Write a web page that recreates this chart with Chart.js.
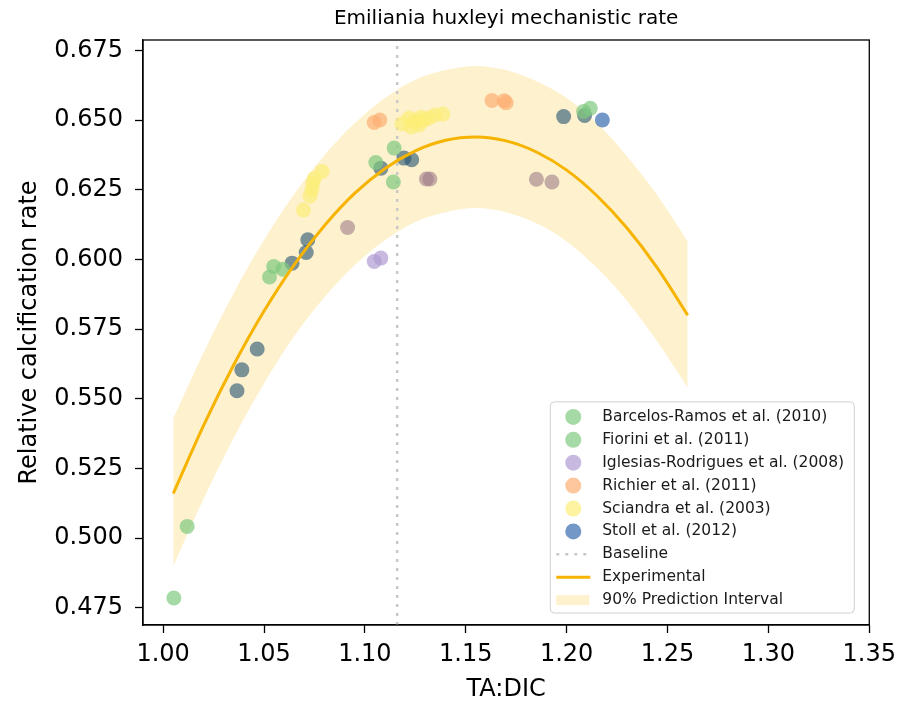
<!DOCTYPE html>
<html>
<head>
<meta charset="utf-8">
<title>Emiliania huxleyi mechanistic rate</title>
<script src="https://cdn.jsdelivr.net/npm/chart.js@4.4.1/dist/chart.umd.min.js"></script>
<style>
  html, body { margin: 0; padding: 0; background: #fff; }
  #wrap { width: 903px; height: 707px; }
</style>
</head>
<body>
<div id="wrap"><canvas id="rateChart" width="903" height="707"></canvas></div>
<script>
// values
const xTicks = [1.00, 1.05, 1.10, 1.15, 1.20, 1.25, 1.30, 1.35];
const yTicks = [0.475, 0.500, 0.525, 0.550, 0.575, 0.600, 0.625, 0.650, 0.675];

const barcelosX = [1.0053, 1.0119, 1.0527, 1.0548, 1.0593];
const barcelosY = [0.4785, 0.5042, 0.5937, 0.5975, 0.5965];

const fioriniX = [1.1054, 1.1141, 1.1145, 1.2084, 1.2117];
const fioriniY = [0.6348, 0.6278, 0.6400, 0.6531, 0.6543];

const iglesiasX = [1.1046, 1.1079];
const iglesiasY = [0.5993, 0.6005];

const richierX = [1.1046, 1.1074, 1.1630, 1.1690, 1.1700];
const richierY = [0.6492, 0.6501, 0.6571, 0.6570, 0.6563];

const sciandraX = [1.0695, 1.0728, 1.0738, 1.0741, 1.0750, 1.0788, 1.1184, 1.1219, 1.1229, 1.1243,
                   1.1258, 1.1268, 1.1278, 1.1293, 1.1317, 1.1347, 1.1387];
const sciandraY = [0.6178, 0.6228, 0.6252, 0.6274, 0.6292, 0.6316, 0.6487, 0.6508, 0.6476, 0.6494,
                   0.6497, 0.6483, 0.6511, 0.6501, 0.6508, 0.6519, 0.6522];

const stollX = [1.2177];
const stollY = [0.6501];

// overlapping markers (drawn darker / mixed in the figure)
const slateX = [1.0366, 1.0390, 1.0466, 1.0639, 1.0709, 1.0717, 1.1079, 1.1194, 1.1232, 1.1985, 1.2089];
const slateY = [0.5529, 0.5604, 0.5679, 0.5987, 0.6025, 0.6071, 0.6328, 0.6364, 0.6358, 0.6513, 0.6517];
const mauveX = [1.0914, 1.1305, 1.1322, 1.1850, 1.1927];
const mauveY = [0.6115, 0.6289, 0.6289, 0.6288, 0.6278];

const baselineX = 1.116;

const curveX = [1.005, 1.02, 1.035, 1.05, 1.065, 1.08, 1.095, 1.11, 1.125, 1.14,
                1.155, 1.17, 1.185, 1.2, 1.215, 1.23, 1.245, 1.26];
const curveY = [0.516, 0.5404, 0.5622, 0.5815, 0.5982, 0.6122, 0.6238, 0.6327, 0.6390, 0.6428,
                0.6440, 0.6426, 0.6386, 0.6321, 0.6229, 0.6112, 0.5969, 0.580];
const bandUpper = [0.543, 0.5665, 0.588, 0.607, 0.6235, 0.6375, 0.649, 0.658, 0.6645, 0.668,
                   0.6695, 0.668, 0.664, 0.658, 0.649, 0.637, 0.623, 0.6065];
const bandLower = [0.490, 0.514, 0.536, 0.5555, 0.5725, 0.5865, 0.598, 0.607, 0.6135, 0.617,
                   0.6185, 0.617, 0.613, 0.6065, 0.597, 0.585, 0.5705, 0.554];

const FONT = "'DejaVu Sans', 'Liberation Sans', sans-serif";
const Y_MIN = 0.4688, Y_MAX = 0.6788;

const toPoints = (xs, ys) => xs.map((x, i) => ({ x: x, y: ys[i] }));

function studySet(label, xs, ys, color, inLegend) {
    return {
        label: label,
        data: toPoints(xs, ys),
        showLine: false,
        backgroundColor: color,
        borderColor: color,
        pointRadius: 7.5,
        pointHoverRadius: 7.5,
        pointBorderWidth: 0,
        order: 5,
        legendKind: inLegend ? 'dot' : null
    };
}

const bandColor = 'rgba(251, 200, 60, 0.25)';
const curveColor = '#f6b400';
const baselineColor = '#c8c8c8';

const datasets = [
    studySet('Barcelos-Ramos et al. (2010)', barcelosX, barcelosY, 'rgba(127, 201, 127, 0.7)', true),
    studySet('Fiorini et al. (2011)', fioriniX, fioriniY, 'rgba(127, 201, 127, 0.7)', true),
    studySet('Iglesias-Rodrigues et al. (2008)', iglesiasX, iglesiasY, 'rgba(175, 155, 210, 0.7)', true),
    studySet('Richier et al. (2011)', richierX, richierY, 'rgba(253, 175, 115, 0.7)', true),
    studySet('Sciandra et al. (2003)', sciandraX, sciandraY, 'rgba(252, 238, 120, 0.7)', true),
    studySet('Stoll et al. (2012)', stollX, stollY, 'rgba(56, 108, 176, 0.7)', true),
    studySet('overlap-slate', slateX, slateY, 'rgba(40, 85, 115, 0.62)', false),
    studySet('overlap-mauve', mauveX, mauveY, 'rgba(160, 128, 138, 0.62)', false),
    {
        label: 'Baseline',
        data: [{ x: baselineX, y: Y_MIN }, { x: baselineX, y: Y_MAX }],
        borderColor: baselineColor,
        borderWidth: 2.5,
        borderDash: [3, 6],
        pointRadius: 0,
        fill: false,
        order: 8,
        legendKind: 'dots'
    },
    {
        label: 'Experimental',
        data: toPoints(curveX, curveY),
        borderColor: curveColor,
        borderWidth: 3,
        pointRadius: 0,
        cubicInterpolationMode: 'monotone',
        fill: false,
        order: 1,
        legendKind: 'line'
    },
    {
        label: '90% Prediction Interval',
        data: toPoints(curveX, bandUpper),
        borderWidth: 0,
        borderColor: 'rgba(0,0,0,0)',
        backgroundColor: bandColor,
        pointRadius: 0,
        cubicInterpolationMode: 'monotone',
        fill: '+1',
        order: 10,
        legendKind: 'rect'
    },
    {
        label: 'band-lower',
        data: toPoints(curveX, bandLower),
        borderWidth: 0,
        borderColor: 'rgba(0,0,0,0)',
        pointRadius: 0,
        cubicInterpolationMode: 'monotone',
        fill: false,
        order: 10,
        legendKind: null
    }
];

// frame around the axes + legend box in the lower right corner
const framePlugin = {
    id: 'frameAndLegend',
    afterDraw(chart) {
        const ctx = chart.ctx;
        const a = chart.chartArea;
        ctx.save();
        ctx.strokeStyle = '#000';
        ctx.lineWidth = 1.3;
        ctx.strokeRect(a.left, a.top, a.right - a.left, a.bottom - a.top);

        const items = chart.data.datasets.filter(d => d.legendKind);
        const w = 304, rowH = 22.9;
        const h = items.length * rowH + 5;
        const x0 = a.right - 15 - w;
        const y0 = a.bottom - 12 - h;

        ctx.beginPath();
        ctx.roundRect(x0, y0, w, h, 4);
        ctx.fillStyle = 'rgba(255,255,255,0.8)';
        ctx.fill();
        ctx.strokeStyle = '#d0d0d0';
        ctx.lineWidth = 1;
        ctx.stroke();

        ctx.font = '15.5px ' + FONT;
        ctx.textBaseline = 'middle';
        items.forEach((d, i) => {
            const cy = y0 + 15 + i * rowH;
            const mx = x0 + 23;
            if (d.legendKind === 'dot') {
                ctx.beginPath();
                ctx.arc(mx, cy, 8, 0, Math.PI * 2);
                ctx.fillStyle = d.backgroundColor;
                ctx.fill();
            } else if (d.legendKind === 'dots') {
                ctx.beginPath();
                ctx.setLineDash([3, 6]);
                ctx.strokeStyle = d.borderColor;
                ctx.lineWidth = 2.5;
                ctx.moveTo(mx - 17, cy);
                ctx.lineTo(mx + 17, cy);
                ctx.stroke();
                ctx.setLineDash([]);
            } else if (d.legendKind === 'line') {
                ctx.beginPath();
                ctx.strokeStyle = d.borderColor;
                ctx.lineWidth = 3;
                ctx.moveTo(mx - 17, cy);
                ctx.lineTo(mx + 17, cy);
                ctx.stroke();
            } else if (d.legendKind === 'rect') {
                ctx.fillStyle = d.backgroundColor;
                ctx.fillRect(mx - 17, cy - 5, 33, 10);
            }
            ctx.fillStyle = '#1a1a1a';
            ctx.fillText(d.label, x0 + 52, cy);
        });
        ctx.restore();
    }
};

const chart = new Chart(document.getElementById('rateChart'), {
    type: 'line',
    data: { datasets: datasets },
    options: {
        responsive: false,
        animation: false,
        events: [],
        layout: { padding: { left: 0, right: 31, top: 0, bottom: 0 } },
        plugins: {
            legend: { display: false },
            tooltip: { enabled: false },
            title: {
                display: true,
                fullSize: false,
                text: 'Emiliania huxleyi mechanistic rate',
                color: '#000',
                font: { family: FONT, size: 20, weight: 'normal' },
                padding: { top: 7, bottom: 9 }
            }
        },
        scales: {
            x: {
                type: 'linear',
                min: 0.99,
                max: 1.35,
                afterBuildTicks: s => { s.ticks = xTicks.map(v => ({ value: v })); },
                afterFit: s => { s.height = 82; },
                grid: { display: true, drawOnChartArea: false, drawTicks: true, tickLength: 8, tickWidth: 1.3, tickColor: '#000' },
                border: { display: true, color: '#000', width: 1.3 },
                ticks: {
                    color: '#000',
                    font: { family: FONT, size: 24 },
                    padding: 7,
                    maxRotation: 0,
                    autoSkip: false,
                    callback: v => v.toFixed(2)
                },
                title: {
                    display: true,
                    text: 'TA:DIC',
                    color: '#000',
                    font: { family: FONT, size: 24 },
                    padding: { top: 0, bottom: 3 }
                }
            },
            y: {
                type: 'linear',
                min: Y_MIN,
                max: Y_MAX,
                afterBuildTicks: s => { s.ticks = yTicks.map(v => ({ value: v })); },
                afterFit: s => { s.width = 143; },
                grid: { display: true, drawOnChartArea: false, drawTicks: true, tickLength: 8, tickWidth: 1.3, tickColor: '#000' },
                border: { display: true, color: '#000', width: 1.3 },
                ticks: {
                    color: '#000',
                    font: { family: FONT, size: 24 },
                    padding: 12,
                    autoSkip: false,
                    callback: v => v.toFixed(3)
                },
                title: {
                    display: true,
                    text: 'Relative calcification rate',
                    color: '#000',
                    font: { family: FONT, size: 24 },
                    padding: { top: 15, bottom: 0 }
                }
            }
        }
    },
    plugins: [framePlugin]
});
</script>
</body>
</html>
